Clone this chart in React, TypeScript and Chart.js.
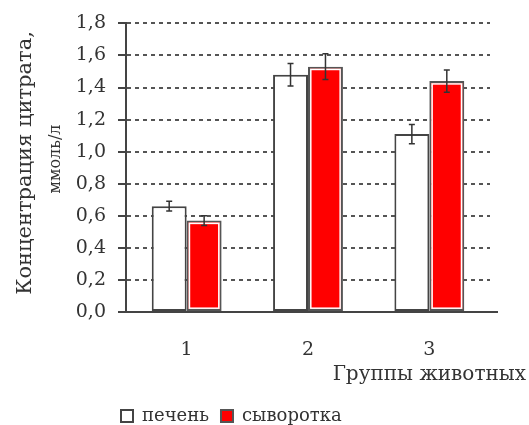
import React, { useEffect, useRef } from "react";
import { Chart, registerables } from "chart.js";

Chart.register(...registerables);

const categories = ["1", "2", "3"];
const liverValues = [0.66, 1.48, 1.11];
const liverErrors = [0.03, 0.07, 0.06];
const serumValues = [0.57, 1.53, 1.44];
const serumErrors = [0.03, 0.08, 0.07];
const yTickLabels = ["0,0", "0,2", "0,4", "0,6", "0,8", "1,0", "1,2", "1,4", "1,6", "1,8"];
const seriesNames = ["печень", "сыворотка"];
const yTitle = ["Концентрация цитрата,", "ммоль/л"];
const xTitle = "Группы животных";

const FONT = "'DejaVu Serif', serif";
const INK = "#333";

const errorBarPlugin = {
  id: "errorBars",
  afterLayout(chart: any) {
    const lg = chart.legend;
    if (lg) {
      const dy = 10;
      lg.top += dy;
      lg.bottom += dy;
      const w = lg.right - lg.left;
      lg.left = 121 - 12;
      lg.right = lg.left + w;
    }
  },
  afterDatasetsDraw(chart: any) {
    const { ctx } = chart;
    const yScale = chart.scales.y;
    const errs = [liverErrors, serumErrors];
    const redMeta = chart.getDatasetMeta(1);
    ctx.save();
    redMeta.data.forEach((bar: any) => {
      const half = bar.width / 2;
      ctx.strokeStyle = "#fff";
      ctx.lineWidth = 1.5;
      ctx.strokeRect(bar.x - half + 2.8, bar.y + 2.8, bar.width - 5.6, bar.base - bar.y - 5.6);
    });
    ctx.restore();
    chart.data.datasets.forEach((ds: any, di: number) => {
      const meta = chart.getDatasetMeta(di);
      meta.data.forEach((bar: any, i: number) => {
        const v = ds.data[i];
        const e = errs[di][i];
        const yTop = yScale.getPixelForValue(v + e);
        const yBot = yScale.getPixelForValue(v - e);
        const x = bar.x;
        ctx.save();
        ctx.strokeStyle = INK;
        ctx.lineWidth = 1.5;
        ctx.beginPath();
        ctx.moveTo(x, yTop);
        ctx.lineTo(x, yBot);
        ctx.moveTo(x - 3, yTop);
        ctx.lineTo(x + 3, yTop);
        ctx.moveTo(x - 3, yBot);
        ctx.lineTo(x + 3, yBot);
        ctx.stroke();
        ctx.restore();
      });
    });
  },
  afterDraw(chart: any) {
    const { ctx, chartArea } = chart;
    ctx.save();
    ctx.strokeStyle = "#444";
    ctx.lineWidth = 2;
    ctx.beginPath();
    ctx.moveTo(chartArea.right - 1, chartArea.bottom);
    ctx.lineTo(chartArea.right + 8, chartArea.bottom);
    ctx.stroke();
    ctx.fillStyle = INK;
    // x axis title
    ctx.font = `20px ${FONT}`;
    ctx.textAlign = "right";
    ctx.textBaseline = "middle";
    ctx.fillText(xTitle, 526, 375);
    // y axis title, two lines of different size
    ctx.textAlign = "center";
    ctx.textBaseline = "alphabetic";
    ctx.save();
    ctx.translate(31, 163);
    ctx.rotate(-Math.PI / 2);
    ctx.font = `21px ${FONT}`;
    ctx.fillText(yTitle[0], 0, 0);
    ctx.restore();
    ctx.save();
    ctx.translate(60, 159);
    ctx.rotate(-Math.PI / 2);
    ctx.font = `16px ${FONT}`;
    ctx.fillText(yTitle[1], 0, 0);
    ctx.restore();
    ctx.restore();
  },
};

export default function App() {
  const ref = useRef<HTMLCanvasElement>(null);
  useEffect(() => {
    if (!ref.current) return;
    const chart = new Chart(ref.current, {
      type: "bar",
      data: {
        labels: categories,
        datasets: [
          {
            label: seriesNames[0],
            data: liverValues,
            backgroundColor: "#ffffff",
            borderColor: "#444",
            borderWidth: 2,
            borderSkipped: false,
            barPercentage: 1,
            categoryPercentage: 0.576,
          },
          {
            label: seriesNames[1],
            data: serumValues,
            backgroundColor: "#ff0000",
            borderColor: "#555",
            borderWidth: 2,
            borderSkipped: false,
            barPercentage: 1,
            categoryPercentage: 0.576,
          },
        ],
      },
      options: {
        responsive: false,
        animation: false,
        layout: { padding: { top: 22, right: 39, left: 0, bottom: 0 } },
        plugins: {
          tooltip: { enabled: false },
          legend: {
            position: "bottom",
            align: "start",
            labels: {
              font: { family: FONT, size: 18 },
              color: INK,
              boxWidth: 12,
              boxHeight: 12,
              padding: 12,
            },
          },
        },
        scales: {
          x: {
            grid: { display: false },
            border: { display: true, color: "#444", width: 2 },
            ticks: { font: { family: FONT, size: 19 }, color: INK, padding: 19 },
            afterFit: (s: any) => {
              s.height = 73;
            },
          },
          y: {
            min: 0,
            max: 1.8,
            ticks: {
              stepSize: 0.2,
              font: { family: FONT, size: 19 },
              color: INK,
              padding: 12,
              callback: (_v: any, i: number) => yTickLabels[i],
            },
            grid: {
              color: "#555",
              lineWidth: 2,
              tickLength: 8,
              tickColor: "#444",
              tickWidth: 2,
              tickBorderDash: [],
            },
            border: { display: true, color: "#444", width: 2, dash: [4, 4] },
            afterFit: (s: any) => {
              s.width = 126;
            },
          },
        },
      },
      plugins: [errorBarPlugin],
    });
    return () => chart.destroy();
  }, []);
  return (
    <div style={{ position: "absolute", left: 0, top: 0, width: 529, height: 425, background: "#fff" }}>
      <canvas ref={ref} width={529} height={425} />
    </div>
  );
}
